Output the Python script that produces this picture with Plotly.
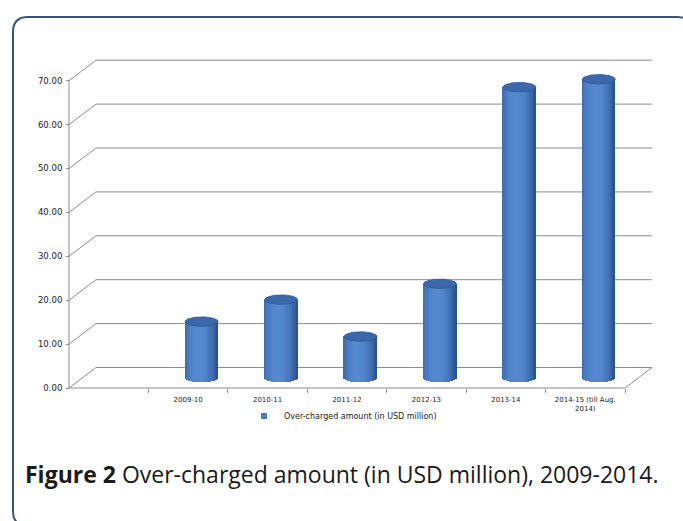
import numpy as np
import plotly.graph_objects as go

# ---------------- data ----------------
categories = ["", "2009-10", "2010-11", "2011-12", "2012-13", "2013-14", "2014-15 (till Aug.<br>2014)"]
values = [None, 12.8, 17.8, 9.4, 21.4, 66.2, 68.0]
y_ticks = [0, 10, 20, 30, 40, 50, 60, 70]
y_ticktext = ["0.00", "10.00", "20.00", "30.00", "40.00", "50.00", "60.00", "70.00"]
series_name = "Over-charged amount (in USD million)"
caption_bold = "Figure 2"
caption_rest = " Over-charged amount (in USD million), 2009-2014."

# ---------------- geometry / style ----------------
W, H = 683, 521
X0PX, Y0PX = 69.0, 388.0        # pixel of front-floor origin
PXX, PXY = 79.43, 4.39          # pixels per category / per y unit
ML, MR, MT, MB = 61, 26, 57, 131
DX, DY = 0.34, 4.67             # 3D depth offset (data units)
x_range = [(ML - X0PX) / PXX, (W - MR - X0PX) / PXX]
y_range = [(Y0PX - (H - MB)) / PXY, (Y0PX - MT) / PXY]
ncat = len(categories)

grid_col = "#8e8a8e"
fig = go.Figure()
shapes = []

# back wall gridlines + left diagonals
for v in y_ticks:
    shapes.append(dict(type="path", xref="x", yref="y", layer="below",
                       path=f"M 0,{v} L {DX},{v+DY} L {ncat+DX},{v+DY}",
                       line=dict(color=grid_col, width=1)))
# floor front line and right diagonal
shapes.append(dict(type="path", xref="x", yref="y", layer="below",
                   path=f"M 0,0 L {ncat},0 L {ncat+DX},{DY}",
                   line=dict(color=grid_col, width=1)))
# left axis line
shapes.append(dict(type="line", xref="x", yref="y", layer="below",
                   x0=0, x1=0, y0=0, y1=y_ticks[-1],
                   line=dict(color=grid_col, width=1)))

# ---------------- cylinders ----------------
bw = 0.415          # cylinder width (x units)
a = bw / 2
b = 1.07            # ellipse half-height (y units)
y0 = DY / 2
N = 28
dark = np.array([0x24, 0x4C, 0x88])
light = np.array([0x55, 0x89, 0xD0])

xs, bases, heights, cols, widths = [], [], [], [], []
for i, v in enumerate(values):
    if v is None:
        continue
    cx = i + 0.5 + DX / 2
    for k in range(N):
        u = -1 + (k + 0.5) * 2 / N
        t = max(0.0, 1 - ((u + 0.15) / 1.15) ** 2)
        c = dark + (light - dark) * (t ** 0.8)
        off = b * np.sqrt(max(0.0, 1 - u * u))
        xs.append(cx + u * a)
        bases.append(y0 - off)
        heights.append(v + off)
        widths.append(2 * a / N * 1.25)
        cols.append("rgb(%d,%d,%d)" % tuple(c.astype(int)))

fig.add_trace(go.Bar(x=xs, y=heights, base=bases, width=widths,
                     marker=dict(color=cols, line=dict(width=0)),
                     showlegend=False, hoverinfo="skip"))

# top caps
th = np.linspace(0, 2 * np.pi, 80)
for i, v in enumerate(values):
    if v is None:
        continue
    cx = i + 0.5 + DX / 2
    fig.add_trace(go.Scatter(x=cx + a * np.cos(th), y=y0 + v + b * np.sin(th),
                             mode="lines", fill="toself", fillcolor="#3A68AA",
                             line=dict(color="#2B5793", width=0.8),
                             showlegend=False, hoverinfo="skip"))

# legend entry
fig.add_trace(go.Scatter(x=[None], y=[None], mode="markers", name=series_name,
                         marker=dict(symbol="square", size=6, color="#4A7CC0")))

# ---------------- border + caption ----------------
def px_to_paper(px, py):
    return ((px - ML) / (W - ML - MR), ((H - MB) - py) / (H - MT - MB))

L_, T_, R_, B_, r = 13, 17, 692, 526, 15
def P(px, py):
    x, y = px_to_paper(px, py)
    return f"{x:.5f},{y:.5f}"
border_path = (f"M {P(L_+r, T_)} L {P(R_-r, T_)} Q {P(R_, T_)} {P(R_, T_+r)} "
               f"L {P(R_, B_-r)} Q {P(R_, B_)} {P(R_-r, B_)} L {P(L_+r, B_)} "
               f"Q {P(L_, B_)} {P(L_, B_-r)} L {P(L_, T_+r)} Q {P(L_, T_)} {P(L_+r, T_)} Z")
shapes.append(dict(type="path", xref="paper", yref="paper", path=border_path,
                   line=dict(color="#36557C", width=2), layer="below"))

cx_, cy_ = px_to_paper(23, 474)
fig.add_annotation(x=cx_, y=cy_, xref="paper", yref="paper", xanchor="left", yanchor="middle",
                   showarrow=False, text=f"<b>{caption_bold}</b>{caption_rest}",
                   font=dict(family="Open Sans", size=23, color="#1a1a1a"))

lx, ly = px_to_paper(244, 416)
yax_pos, _ = px_to_paper(X0PX, 0)
_, xax_pos = px_to_paper(0, Y0PX)

fig.update_layout(
    width=W, height=H,
    margin=dict(l=ML, r=MR, t=MT, b=MB, autoexpand=False),
    paper_bgcolor="white", plot_bgcolor="white",
    barmode="overlay", bargap=0,
    shapes=shapes,
    showlegend=True,
    legend=dict(x=lx, y=ly, xanchor="left", yanchor="middle", orientation="h",
                font=dict(family="DejaVu Sans", size=8, color="#222"),
                bgcolor="rgba(0,0,0,0)", itemwidth=30),
    xaxis=dict(range=x_range, showgrid=False, zeroline=False, showline=False,
               tickmode="array", tickvals=[i + 0.5 for i in range(ncat)], ticktext=categories,
               ticks="", tickfont=dict(family="DejaVu Sans", size=7, color="#222"),
               ticklabelstandoff=6,
               anchor="free", position=xax_pos,
               minor=dict(tickmode="array", tickvals=list(range(1, ncat + 1)),
                          ticks="outside", ticklen=4, tickcolor=grid_col, showgrid=False)),
    yaxis=dict(range=y_range, showgrid=False, zeroline=False, showline=False,
               tickmode="array", tickvals=y_ticks, ticktext=y_ticktext,
               ticks="outside", ticklen=3, tickcolor=grid_col,
               tickfont=dict(family="DejaVu Sans", size=8.5, color="#222"),
               ticklabelstandoff=2,
               anchor="free", position=yax_pos),
)

fig.write_html("out.html")
